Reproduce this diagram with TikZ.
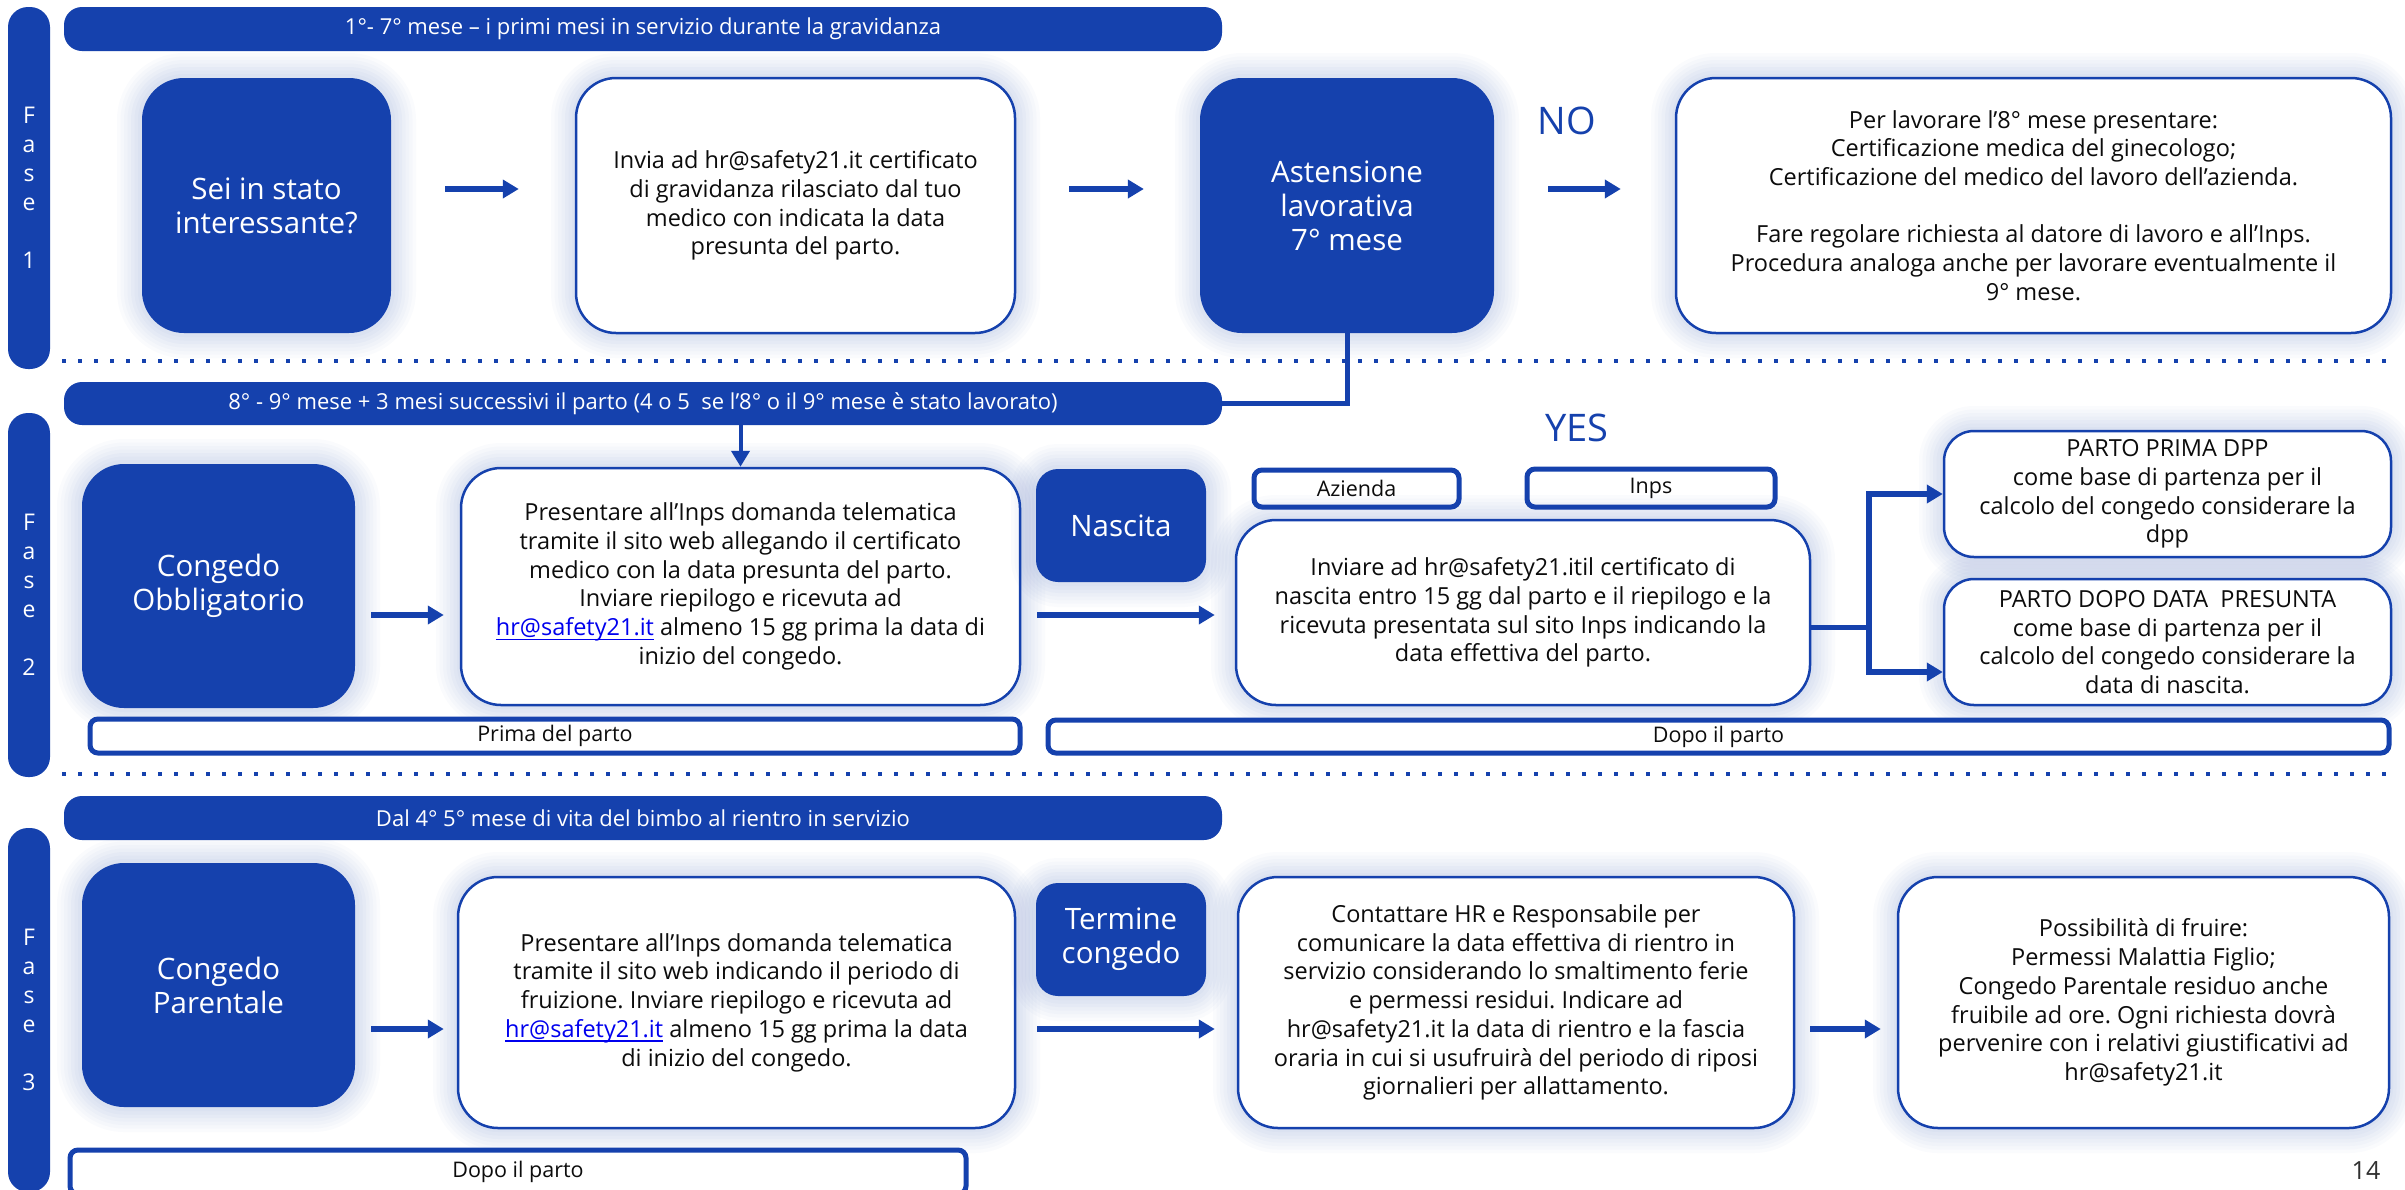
\documentclass[tikz,border=0pt]{standalone}
\usepackage{fontspec}
\setmainfont{Open Sans}
\usetikzlibrary{arrows.meta}
\definecolor{mainblue}{RGB}{21,65,173}
\definecolor{linkblue}{RGB}{0,0,238}
\definecolor{txt}{RGB}{12,12,12}
\frenchspacing
\newcommand\hrlink[1]{\begingroup\color{linkblue}\setbox0\hbox{#1}\rlap{\rule[-4.5pt]{\wd0}{1.6pt}}\box0\endgroup}
\tikzset{
  glow/.style={preaction={draw=mainblue, draw opacity=0.018, line width=50pt},
               preaction={draw=mainblue, draw opacity=0.018, line width=43pt},
               preaction={draw=mainblue, draw opacity=0.02, line width=36pt},
               preaction={draw=mainblue, draw opacity=0.02, line width=29pt},
               preaction={draw=mainblue, draw opacity=0.022, line width=22pt},
               preaction={draw=mainblue, draw opacity=0.022, line width=15pt},
               preaction={draw=mainblue, draw opacity=0.025, line width=8pt}},
  bluebox/.style={glow, fill=mainblue, draw=none, rounded corners=42pt, text=white, align=center,
                  font=\fontsize{29.5}{34}\selectfont, inner sep=0pt},
  whitebox/.style={glow, fill=white, draw=mainblue, line width=2.5pt, rounded corners=40pt, text=txt,
                  align=center, font=\fontsize{23.5}{28.7}\selectfont, inner sep=0pt},
  hdr/.style={fill=mainblue, rounded corners=18pt, text=white, font=\fontsize{22}{26}\selectfont, inner sep=0pt},
  phasebar/.style={fill=mainblue, rounded corners=20pt, text=white, align=center,
                   font=\fontsize{23}{29}\selectfont, inner sep=0pt},
  lbl/.style={fill=white, draw=mainblue, line width=5pt, rounded corners=8pt, text=txt,
              font=\fontsize{21.5}{24}\selectfont, inner sep=0pt},
  arr/.style={draw=mainblue, line width=6pt, -{Triangle[length=16pt,width=18pt]}},
  conn/.style={draw=mainblue, line width=5pt},
  sepline/.style={draw=mainblue, line width=4pt, dash pattern=on 4pt off 12pt},
  yn/.style={text=mainblue, font=\fontsize{38}{40}\selectfont, inner sep=0pt},
}
\begin{document}
\begin{tikzpicture}[x=1pt, y=-1pt]
\fill[white] (0,0) rectangle (2405,1189);
\useasboundingbox (0,0) rectangle (2405,1189);

% separators
\draw[sepline] (62,361) -- (2392,361);
\draw[sepline] (62,774) -- (2392,774);

% row levels
\coordinate (r1) at (0,189);
\coordinate (r2) at (0,615);
\coordinate (r3) at (0,1029);

% ---------------- Phase 1
\node[phasebar, minimum width=42pt, minimum height=362pt] (ph1) at (29,188) {F\\a\\s\\e\\[29pt]1};
\node[hdr, minimum width=1158pt, minimum height=44pt] (hdr1) at (643,29) {1°- 7° mese – i primi mesi in servizio durante la gravidanza};
\node[bluebox, minimum width=249pt, minimum height=255pt] (sei) at (266.5,205.5) {Sei in stato\\interessante?};
\node[whitebox, minimum width=439pt, minimum height=255pt] (invia) at (795.5,205.5)
  {Invia ad hr@safety21.it certificato\\di gravidanza rilasciato dal tuo\\medico con indicata la data\\presunta del parto.};
\node[bluebox, minimum width=294pt, minimum height=255pt] (asten) at (1347,205.5) {Astensione\\lavorativa\\7° mese};
\node[yn] (no) at (1567,121) {NO};
\node[whitebox, minimum width=715pt, minimum height=255pt] (per) at (2033.5,205.5)
  {Per lavorare l’8° mese presentare:\\Certificazione medica del ginecologo;\\Certificazione del medico del lavoro dell’azienda.\\[28.7pt]Fare regolare richiesta al datore di lavoro e all’Inps.\\Procedura analoga anche per lavorare eventualmente il\\9° mese.};

% ---------------- Phase 2
\node[phasebar, minimum width=42pt, minimum height=364pt] (ph2) at (29,595) {F\\a\\s\\e\\[29pt]2};
\node[hdr, minimum width=1158pt, minimum height=43pt] (hdr2) at (643,403.5) {8° - 9° mese + 3 mesi successivi il parto (4 o 5 \ se l’8° o il 9° mese è stato lavorato)};
\node[bluebox, minimum width=273pt, minimum height=244pt] (congobb) at (218.5,586) {Congedo\\Obbligatorio};
\node[whitebox, minimum width=559pt, minimum height=237pt] (pres2) at (740.5,586.5)
  {Presentare all’Inps domanda telematica\\tramite il sito web allegando il certificato\\medico con la data presunta del parto.\\Inviare riepilogo e ricevuta ad\\\hrlink{hr@safety21.it} almeno 15 gg prima la data di\\inizio del congedo.};
\node[bluebox, rounded corners=22pt, minimum width=170pt, minimum height=113pt] (nascita) at (1121,525.5) {Nascita};
\node[yn] (yes) at (1577,428) {YES};
\node[lbl, minimum width=205pt, minimum height=37pt] (azienda) at (1356.5,488.5) {Azienda};
\node[lbl, minimum width=248pt, minimum height=38pt] (inps) at (1651,488) {Inps};
\node[whitebox, minimum width=574pt, minimum height=185pt] (inviare) at (1523,612.5)
  {Inviare ad hr@safety21.itil certificato di\\nascita entro 15 gg dal parto e il riepilogo e la\\ricevuta presentata sul sito Inps indicando la\\data effettiva del parto.};
\node[whitebox, rounded corners=30pt, minimum width=447pt, minimum height=126pt] (prima) at (2167.5,494)
  {PARTO PRIMA DPP\\come base di partenza per il\\calcolo del congedo considerare la\\dpp};
\node[whitebox, rounded corners=30pt, minimum width=447pt, minimum height=126pt] (dopo) at (2167.5,642)
  {PARTO DOPO DATA \ PRESUNTA\\come base di partenza per il\\calcolo del congedo considerare la\\data di nascita.};
\node[lbl, minimum width=930pt, minimum height=34pt] (primadel) at (555,736) {Prima del parto};
\node[lbl, minimum width=1341pt, minimum height=33pt] (dopoil2) at (1718.5,736.5) {Dopo il parto};

% ---------------- Phase 3
\node[phasebar, minimum width=42pt, minimum height=364pt] (ph3) at (29,1010) {F\\a\\s\\e\\[29pt]3};
\node[hdr, minimum width=1158pt, minimum height=44pt] (hdr3) at (643,818) {Dal 4° 5° mese di vita del bimbo al rientro in servizio};
\node[bluebox, minimum width=273pt, minimum height=244pt] (congpar) at (218.5,985) {Congedo\\Parentale};
\node[whitebox, minimum width=557pt, minimum height=251pt] (pres3) at (736.5,1002.5)
  {Presentare all’Inps domanda telematica\\tramite il sito web indicando il periodo di\\fruizione. Inviare riepilogo e ricevuta ad\\\hrlink{hr@safety21.it} almeno 15 gg prima la data\\di inizio del congedo.};
\node[bluebox, rounded corners=22pt, minimum width=170pt, minimum height=113pt] (termine) at (1121,939.5) {Termine\\congedo};
\node[whitebox, minimum width=556pt, minimum height=251pt] (contattare) at (1516,1002.5)
  {Contattare HR e Responsabile per\\comunicare la data effettiva di rientro in\\servizio considerando lo smaltimento ferie\\e permessi residui. Indicare ad\\hr@safety21.it la data di rientro e la fascia\\oraria in cui si usufruirà del periodo di riposi\\giornalieri per allattamento.};
\node[whitebox, minimum width=491pt, minimum height=251pt] (possib) at (2143.5,1002.5)
  {Possibilità di fruire:\\Permessi Malattia Figlio;\\Congedo Parentale residuo anche\\fruibile ad ore. Ogni richiesta dovrà\\pervenire con i relativi giustificativi ad\\hr@safety21.it};
\node[lbl, minimum width=896pt, minimum height=44pt] (dopoil3) at (518,1172) {Dopo il parto};
\node[text=txt!85, font=\fontsize{25}{28}\selectfont, inner sep=0pt] (pagenum) at (2366,1171) {14};

% ---------------- connectors
\draw[arr, shorten <=54pt, shorten >=56pt] (sei.east |- r1) -- (invia.west |- r1);
\draw[arr, shorten <=53pt, shorten >=56pt] (invia.east |- r1) -- (asten.west |- r1);
\draw[arr, shorten <=54pt, shorten >=54pt] (asten.east |- r1) -- (per.west |- r1);
\draw[conn] (asten.south) |- (hdr2.east);
\draw[arr, line width=4pt] (hdr2.south -| pres2.north) -- (pres2.north);

\draw[arr, shorten <=16pt, shorten >=16pt] (congobb.east |- r2) -- (pres2.west |- r2);
\draw[arr, shorten <=16pt, shorten >=20pt] (pres2.east |- r2) -- (inviare.west |- r2);
\coordinate (bx) at (1869,627);
\draw[conn] (inviare.east |- bx) -- (bx);
\draw[arr] (bx) |- (prima.west);
\draw[arr] (bx) |- ([yshift=-30pt]dopo.west);

\draw[arr, shorten <=16pt, shorten >=13pt] (congpar.east |- r3) -- (pres3.west |- r3);
\draw[arr, shorten <=21pt, shorten >=22pt] (pres3.east |- r3) -- (contattare.west |- r3);
\draw[arr, shorten <=15pt, shorten >=16pt] (contattare.east |- r3) -- (possib.west |- r3);
\end{tikzpicture}
\end{document}
